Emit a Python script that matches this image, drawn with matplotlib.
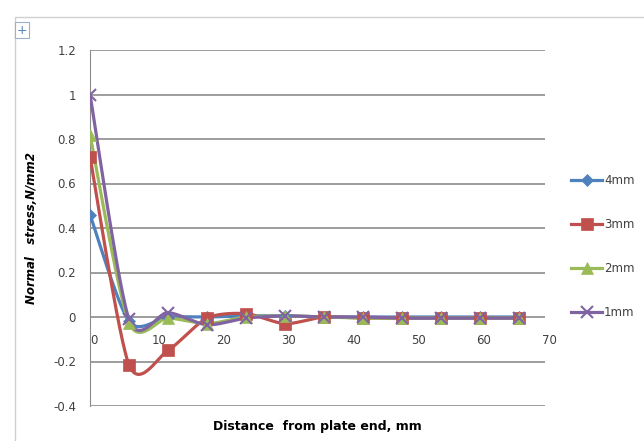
import numpy as np
import matplotlib.pyplot as plt
from matplotlib.patches import Rectangle
import matplotlib.transforms as mtransforms

# distance from plate end (mm)
distance = [0, 6, 12, 18, 24, 30, 36, 42, 48, 54, 60, 66]

# normal stress for each plate thickness
stress_4mm = [0.46, -0.02, 0.0, 0.0, 0.005, 0.005, 0.0, 0.0, 0.0, 0.0, 0.0, 0.0]
stress_3mm = [0.72, -0.215, -0.15, -0.005, 0.015, -0.03, 0.0, -0.005, -0.005, -0.005, -0.005, -0.005]
stress_2mm = [0.82, -0.025, -0.005, -0.03, 0.0, 0.005, 0.0, -0.005, -0.005, -0.005, -0.005, -0.005]
stress_1mm = [1.0, -0.01, 0.02, -0.035, -0.005, 0.005, 0.0, 0.0, -0.005, -0.005, -0.005, -0.005]

series = [
    ("4mm", stress_4mm, "#4F81BD", "D", 6),
    ("3mm", stress_3mm, "#C0504D", "s", 8),
    ("2mm", stress_2mm, "#9BBB59", "^", 8),
    ("1mm", stress_1mm, "#8064A2", "x", 8),
]


def smooth(x, y, n=30, k=7.5):
    # bezier segments with catmull-rom style control points
    p = np.column_stack([x, y]).astype(float)
    out = []
    for i in range(len(p) - 1):
        p0 = p[i - 1] if i > 0 else p[i]
        p1, p2 = p[i], p[i + 1]
        p3 = p[i + 2] if i + 2 < len(p) else p[i + 1]
        c1 = p1 + (p2 - p0) / k
        c2 = p2 - (p3 - p1) / k
        t = np.linspace(0, 1, n)[:, None]
        seg = ((1 - t) ** 3 * p1 + 3 * (1 - t) ** 2 * t * c1
               + 3 * (1 - t) * t ** 2 * c2 + t ** 3 * p2)
        out.append(seg)
    seg = np.vstack(out)
    return seg[:, 0], seg[:, 1]


plt.rcParams['font.family'] = ['Liberation Sans Narrow', 'DejaVu Sans']

fig = plt.figure(figsize=(6.44, 4.41), dpi=100)
ax = fig.add_axes([90 / 644, 1 - 406 / 441, 455 / 644, 356 / 441])

# chart border
fig.patches.append(Rectangle((15 / 644, -0.1), 1.2, 1 - 17 / 441 + 0.1,
                             transform=fig.transFigure, fill=False,
                             edgecolor="#d0d0d0", lw=1))
fig.text(22 / 644, 1 - 30 / 441, "+", fontsize=9, color="#4F81BD",
         ha="center", va="center",
         bbox=dict(boxstyle="square,pad=0.1", fc="white", ec="#9bb0cc", lw=0.8))

for name, vals, color, marker, ms in series:
    sx, sy = smooth(distance, vals)
    ax.plot(sx, sy, color=color, lw=2.3, zorder=3)
    ax.plot(distance, vals, linestyle="none", marker=marker, color=color,
            markersize=ms, markeredgewidth=1.5 if marker == "x" else 0.5,
            zorder=4)

ax.set_xlim(0, 70)
ax.set_ylim(-0.4, 1.2)
ax.set_yticks(np.arange(-0.4, 1.21, 0.2))
ax.set_yticklabels(["-0.4", "-0.2", "0", "0.2", "0.4", "0.6", "0.8", "1", "1.2"])
ax.set_xticks(range(0, 71, 10))

ax.grid(axis="y", color="#8c8c8c", lw=1.2)
ax.set_axisbelow(True)
for s in ["top", "right", "bottom"]:
    ax.spines[s].set_visible(False)
ax.spines["left"].set_color("#8c8c8c")

ax.spines["bottom"].set_position(("data", 0))
ax.spines["bottom"].set_visible(False)
ax.tick_params(axis="both", length=0, labelsize=8.5, colors="#404040")
ax.tick_params(axis="x", pad=12)
ax.tick_params(axis="y", pad=10)
offset = mtransforms.ScaledTranslation(4 / 100, 0, fig.dpi_scale_trans)
for lbl in ax.get_xticklabels():
    lbl.set_transform(lbl.get_transform() + offset)

ax.set_xlabel("Distance  from plate end, mm", fontsize=9, fontweight="bold",
              labelpad=0)
ax.xaxis.set_label_coords(0.5, -0.04)
ax.set_ylabel("Normal   stress,N/mm2", fontsize=8.5, fontweight="bold",
              fontstyle="italic")
ax.yaxis.set_label_coords(-0.115, 0.5)

# legend entries
legend_y = [180, 224, 268, 312]
for (name, vals, color, marker, ms), ly in zip(series, legend_y):
    yf = 1 - ly / 441
    fig.lines.append(plt.Line2D([571 / 644, 602 / 644], [yf, yf],
                                transform=fig.transFigure, color=color,
                                lw=2.3))
    fig.lines.append(plt.Line2D([586.5 / 644], [yf], transform=fig.transFigure,
                                color=color, marker=marker, markersize=ms,
                                markeredgewidth=1.5 if marker == "x" else 0.5,
                                linestyle="none"))
    fig.text(604 / 644, yf, name, fontsize=8.5, color="#404040", va="center")

fig.savefig("out.png", dpi=100)
